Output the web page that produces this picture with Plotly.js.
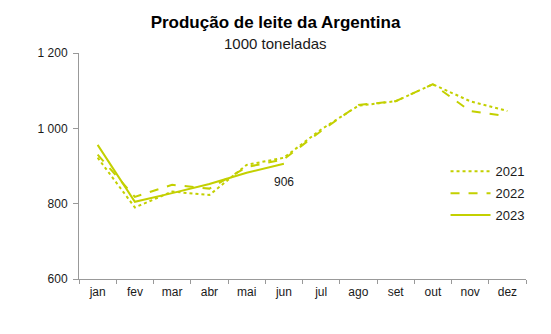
<!DOCTYPE html>
<html>
<head>
<meta charset="utf-8">
<script src="https://cdn.plot.ly/plotly-3.0.1.min.js"></script>
<style>html,body{margin:0;padding:0;background:#fff;}#chart{width:551px;height:334px;}</style>
</head>
<body>
<div id="chart"></div>
<script>
const months = ["jan","fev","mar","abr","mai","jun","jul","ago","set","out","nov","dez"];
const months2023 = ["jan","fev","mar","abr","mai","jun"];
const y2021 = [922, 790, 832, 823, 903, 922, 997, 1060, 1072, 1117, 1072, 1046];
const y2022 = [930, 818, 850, 840, 897, 918, 993, 1062, 1072, 1117, 1046, 1032];
const y2023 = [956, 805, 828, 852, 882, 906];
const label2023 = "906";

const col = "#c3d000";
const font = "Liberation Sans, Arial, sans-serif";

const traces = [
  {x: months, y: y2021, name: "2021", legendgroup: "a", type: "scatter", mode: "lines",
   line: {color: col, width: 2, dash: "dot"}},
  {x: months, y: y2022, name: "2022", legendgroup: "b", type: "scatter", mode: "lines",
   line: {color: col, width: 2, dash: "dash"}},
  {x: months2023, y: y2023, name: "2023", legendgroup: "c", type: "scatter", mode: "lines",
   line: {color: col, width: 2, dash: "solid"}}
];

const layout = {
  width: 551, height: 334,
  margin: {l: 79, r: 25, t: 53, b: 55},
  paper_bgcolor: "#fff", plot_bgcolor: "#fff",
  separators: ", ",
  font: {family: font, color: "#1a1a1a", size: 12},
  title: {text: "<b>Produção de leite da Argentina</b>", x: 0.5, xref: "container", xanchor: "center",
          y: 1 - 16/334, yref: "container", yanchor: "top",
          font: {size: 17, color: "#000", family: font}},
  showlegend: true,
  legend: {x: 0.82, y: 0.543, xanchor: "left", yanchor: "top",
           font: {size: 13, color: "#1a1a1a"}, bgcolor: "rgba(0,0,0,0)",
           itemwidth: 40, tracegroupgap: 2},
  xaxis: {type: "category", categoryarray: months, categoryorder: "array",
          showgrid: false, zeroline: false, showline: true, linecolor: "#999", linewidth: 1,
          ticks: "outside", ticklen: 4, tickcolor: "#999", tickson: "boundaries",
          ticklabelstandoff: 2,
          tickfont: {size: 12, color: "#1a1a1a"}, range: [-0.5, 11.5]},
  yaxis: {range: [600, 1200], tickvals: [600, 800, 1000, 1200], tickformat: ",d",
          showgrid: false, zeroline: false, showline: true, linecolor: "#999", linewidth: 1,
          ticks: "outside", ticklen: 5, tickcolor: "#999", ticklabelstandoff: 3,
          tickfont: {size: 12, color: "#1a1a1a"}},
  annotations: [
    {xref: "paper", yref: "paper", x: (275.5 - 79) / 447, y: (279 - 33) / 226,
     xanchor: "center", yanchor: "top",
     text: "1000 toneladas", showarrow: false,
     font: {size: 15, color: "#1a1a1a", family: font}},
    {x: months2023[5], y: y2023[5], text: label2023, showarrow: false,
     yshift: -18, xshift: 0, font: {size: 12, color: "#1a1a1a", family: font}}
  ]
};

Plotly.newPlot("chart", traces, layout, {staticPlot: true, displayModeBar: false});
</script>
</body>
</html>
